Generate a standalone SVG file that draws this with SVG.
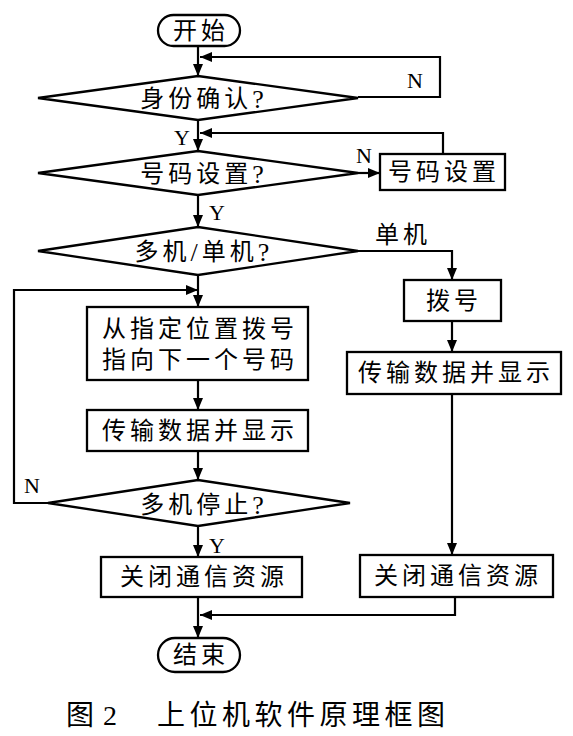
<svg xmlns="http://www.w3.org/2000/svg" width="573" height="736" viewBox="0 0 573 736">
<defs>
<marker id="ah" viewBox="0 0 12 10" refX="12" refY="5" markerWidth="12" markerHeight="10" markerUnits="userSpaceOnUse" orient="auto">
<path d="M0,0 L12,5 L0,10 z" fill="#000"/>
</marker>
<style>
.s{fill:#fff;stroke:#000;stroke-width:2.3}
.c{fill:none;stroke:#000;stroke-width:2.2}
.t{font-family:"Liberation Serif","Noto Sans CJK SC",serif;font-size:24px;letter-spacing:4px;text-anchor:middle;dominant-baseline:central;fill:#000}
.q{font-size:26px}
.l{font-family:"Liberation Serif","Noto Sans CJK SC",serif;font-size:22px;text-anchor:middle;dominant-baseline:central;fill:#000}
.cap{font-family:"Liberation Serif","Noto Sans CJK SC",serif;font-size:28px;dominant-baseline:central;fill:#000}
</style>
</defs>
<rect width="573" height="736" fill="#fff"/>
<g id="connectors">
<path class="c" d="M198,45 V76" marker-end="url(#ah)"/>
<path class="c" d="M358,97 H440 V57 H200" marker-end="url(#ah)"/>
<path class="c" d="M198,120 V151" marker-end="url(#ah)"/>
<path class="c" d="M443,154 V133 H200" marker-end="url(#ah)"/>
<path class="c" d="M358,173 H380" marker-end="url(#ah)"/>
<path class="c" d="M198,195 V227" marker-end="url(#ah)"/>
<path class="c" d="M358,251 H452 V280" marker-end="url(#ah)"/>
<path class="c" d="M198,275 V307" marker-end="url(#ah)"/>
<path class="c" d="M48,503 H14 V290 H198" marker-end="url(#ah)"/>
<path class="c" d="M198,380 V410" marker-end="url(#ah)"/>
<path class="c" d="M198,451 V480" marker-end="url(#ah)"/>
<path class="c" d="M198,526 V557" marker-end="url(#ah)"/>
<path class="c" d="M452,321 V352" marker-end="url(#ah)"/>
<path class="c" d="M452,394 V555" marker-end="url(#ah)"/>
<path class="c" d="M455,597 V615 H200" marker-end="url(#ah)"/>
<path class="c" d="M198,597 V638" marker-end="url(#ah)"/>
<text class="l" x="415" y="80">N</text>
<text class="l" x="182" y="137">Y</text>
<text class="l" x="364" y="155">N</text>
<text class="l" x="217" y="212">Y</text>
<text class="t" x="403" y="235">单机</text>
<text class="l" x="32" y="485">N</text>
<text class="l" x="217" y="545">Y</text>
</g>
<g id="start">
<rect class="s" x="158" y="15" width="82" height="31" rx="15.5"/>
<text class="t" x="201" y="31">开始</text>
</g>
<g id="d1">
<path class="s" d="M38,98 L198,76 L358,98 L198,120 Z"/>
<text class="t" x="204" y="99">身份确认<tspan class="q">?</tspan></text>
</g>
<g id="d2">
<path class="s" d="M38,173 L198,151 L358,173 L198,195 Z"/>
<text class="t" x="204" y="174">号码设置<tspan class="q">?</tspan></text>
</g>
<g id="setnum">
<rect class="s" x="380" y="154" width="125" height="36"/>
<text class="t" x="444" y="172">号码设置</text>
</g>
<g id="d3">
<path class="s" d="M38,251 L198,227 L358,251 L198,275 Z"/>
<text class="t" x="204" y="252">多机<tspan class="q">/</tspan>单机<tspan class="q">?</tspan></text>
</g>
<g id="dialfrom">
<rect class="s" x="87" y="307" width="221" height="73"/>
<text class="t" x="200" y="329">从指定位置拨号</text>
<text class="t" x="200" y="360">指向下一个号码</text>
</g>
<g id="trans1">
<rect class="s" x="87" y="410" width="221" height="41"/>
<text class="t" x="200" y="431">传输数据并显示</text>
</g>
<g id="d4">
<path class="s" d="M48,503 L198,480 L350,503 L198,526 Z"/>
<text class="t" x="204" y="505">多机停止<tspan class="q">?</tspan></text>
</g>
<g id="close1">
<rect class="s" x="101" y="557" width="201" height="40"/>
<text class="t" x="204" y="577">关闭通信资源</text>
</g>
<g id="dial">
<rect class="s" x="404" y="280" width="97" height="41"/>
<text class="t" x="454" y="301">拨号</text>
</g>
<g id="trans2">
<rect class="s" x="347" y="352" width="214" height="42"/>
<text class="t" x="456" y="373">传输数据并显示</text>
</g>
<g id="close2">
<rect class="s" x="360" y="555" width="193" height="42"/>
<text class="t" x="458" y="576">关闭通信资源</text>
</g>
<g id="end">
<rect class="s" x="158" y="638" width="82" height="34" rx="17"/>
<text class="t" x="201" y="655">结束</text>
</g>
<g id="caption">
<text class="cap" x="66" y="715">图</text>
<text class="cap" x="103" y="715">2</text>
<text class="cap" x="157" y="715" style="letter-spacing:4.5px">上位机软件原理框图</text>
</g>
</svg>
